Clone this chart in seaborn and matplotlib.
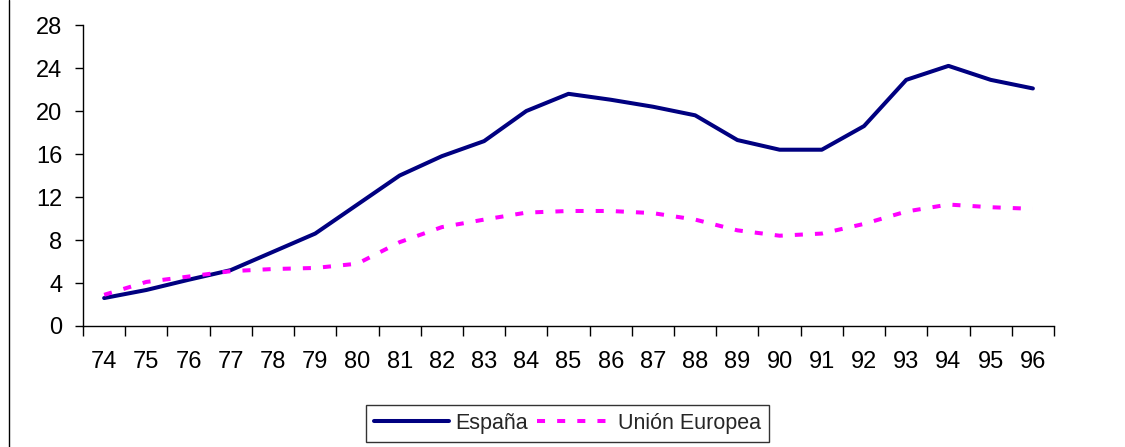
import matplotlib
matplotlib.use("Agg")
import matplotlib.pyplot as plt
from matplotlib.lines import Line2D
from matplotlib.ticker import FixedLocator
import seaborn as sns
import pandas as pd

years = ["74", "75", "76", "77", "78", "79", "80", "81", "82", "83", "84", "85",
         "86", "87", "88", "89", "90", "91", "92", "93", "94", "95", "96"]
espana = [2.6, 3.35, 4.3, 5.2, 6.9, 8.6, 11.3, 14.0, 15.8, 17.2, 20.0, 21.6,
          21.05, 20.4, 19.6, 17.3, 16.4, 16.4, 18.6, 22.9, 24.2, 22.9, 22.1]
union_europea = [2.9, 4.1, 4.6, 5.1, 5.3, 5.4, 5.8, 7.8, 9.2, 9.9, 10.55, 10.7,
                 10.7, 10.5, 9.9, 8.9, 8.4, 8.6, 9.5, 10.65, 11.3, 11.05, 10.9]
series_names = ["España", "Unión Europea"]
y_ticks = [0, 4, 8, 12, 16, 20, 24, 28]

df = pd.DataFrame({
    "pos": list(range(len(years))) * 2,
    "valor": espana + union_europea,
    "serie": [series_names[0]] * len(years) + [series_names[1]] * len(years),
})

sns.set_theme(style="white")
plt.rcParams["font.family"] = ["Liberation Sans", "DejaVu Sans"]

fig = plt.figure(figsize=(11.25, 4.47), dpi=100)
ax = fig.add_axes([0.0738, 0.2707, 0.8631, 0.6733])

sns.lineplot(data=df, x="pos", y="valor", hue="serie", style="serie",
             palette={"España": "#000080", "Unión Europea": "#FF00FF"},
             dashes={"España": "", "Unión Europea": (2, 3)},
             linewidth=2.9, ax=ax, legend=False)

ax.set_xlim(-0.5, len(years) - 0.5)
ax.set_ylim(0, 28)
ax.set_xlabel("")
ax.set_ylabel("")
ax.set_yticks(y_ticks)
ax.set_yticklabels([str(t) for t in y_ticks])
ax.set_xticks(range(len(years)))
ax.set_xticklabels(years)
ax.xaxis.set_minor_locator(FixedLocator([i - 0.5 for i in range(len(years) + 1)]))

ax.tick_params(axis="y", which="major", direction="out", length=6, width=1,
               color="black", labelsize=17, pad=9, labelcolor="black", left=True)
ax.tick_params(axis="x", which="major", length=0, labelsize=17, pad=18,
               labelcolor="black")
ax.tick_params(axis="x", which="minor", direction="out", length=7, width=1,
               color="black", bottom=True)

for s in ["top", "right"]:
    ax.spines[s].set_visible(False)
for s in ["left", "bottom"]:
    ax.spines[s].set_color("black")
    ax.spines[s].set_linewidth(1)
ax.grid(False)

handles = [
    Line2D([], [], color="#000080", linewidth=2.9),
    Line2D([], [], color="#FF00FF", linewidth=2.9, linestyle=(0, (2, 3))),
]
leg = fig.legend(handles, series_names, loc="center", bbox_to_anchor=(0.5045, 0.0526),
                 ncol=2, frameon=True, fancybox=False, edgecolor="black",
                 fontsize=15.5, handlelength=3.5, handletextpad=0.3,
                 columnspacing=0.4, borderpad=0.35, borderaxespad=0)
leg.get_frame().set_linewidth(1)

fig.add_artist(Line2D([0.008, 0.008], [0, 1], color="black", linewidth=1,
                      transform=fig.transFigure))

fig.savefig("out.png", dpi=100)
